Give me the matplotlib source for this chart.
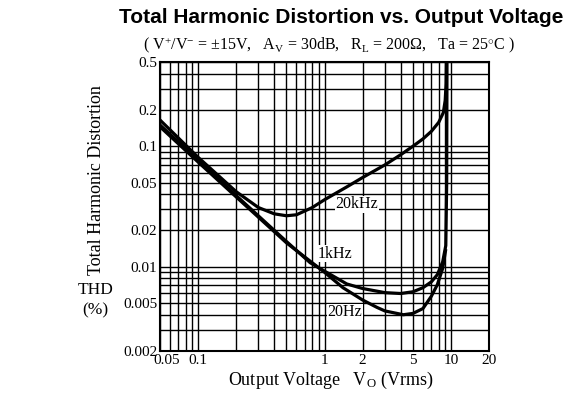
import matplotlib
matplotlib.use("Agg")
import matplotlib.pyplot as plt
from matplotlib.ticker import FixedLocator, FixedFormatter, NullFormatter, LogLocator
from matplotlib.transforms import ScaledTranslation

plt.rcParams['font.family'] = ['Liberation Serif', 'DejaVu Serif']
plt.rcParams['mathtext.fontset'] = 'custom'
plt.rcParams['mathtext.rm'] = 'Liberation Serif'
plt.rcParams['mathtext.it'] = 'Liberation Serif:italic'

# data (Vo in Vrms, THD in %)
vo_20k = [0.05, 0.1, 0.2, 0.3, 0.4, 0.5, 0.6, 0.8, 1, 1.5, 2, 3, 4, 5, 6, 7, 8, 8.7, 9.0, 9.15, 9.2]
thd_20k = [0.165, 0.081, 0.042, 0.031, 0.0275, 0.0265, 0.027, 0.031, 0.036, 0.046, 0.055, 0.07, 0.085, 0.1, 0.115, 0.133, 0.158, 0.19, 0.24, 0.33, 0.5]

vo_1k = [0.05, 0.1, 0.2, 0.5, 0.77, 1, 1.5, 2, 3, 4, 5, 6, 7, 7.8, 8.6, 9.1, 9.25, 9.3]
thd_1k = [0.15, 0.077, 0.039, 0.0162, 0.0108, 0.0092, 0.0072, 0.0066, 0.0061, 0.0060, 0.0062, 0.0067, 0.0075, 0.0086, 0.011, 0.015, 0.05, 0.5]

vo_20 = [0.05, 0.1, 0.2, 0.5, 1, 1.4, 2, 2.6, 3, 4.2, 5, 6, 7, 7.8, 8.6, 9.1]
thd_20 = [0.145, 0.074, 0.038, 0.0158, 0.009, 0.0067, 0.0053, 0.0046, 0.0043, 0.0040, 0.0041, 0.0045, 0.0057, 0.0071, 0.0097, 0.014]

x_ticks = [0.05, 0.1, 1, 2, 5, 10, 20]
x_labels = ['0.05', '0.1', '1', '2', '5', '10', '20']
y_ticks = [0.002, 0.005, 0.01, 0.02, 0.05, 0.1, 0.2, 0.5]
y_labels = ['0.002', '0.005', '0.01', '0.02', '0.05', '0.1', '0.2', '0.5']

fig = plt.figure(figsize=(5.75, 3.95), dpi=100, facecolor='white')
ax = fig.add_axes([0.2783, 0.1114, 0.5722, 0.7316])

ax.set_xscale('log')
ax.set_yscale('log')
ax.set_xlim(0.05, 20)
ax.set_ylim(0.002, 0.5)

ax.xaxis.set_minor_locator(LogLocator(base=10, subs=range(2, 10)))
ax.yaxis.set_minor_locator(LogLocator(base=10, subs=range(2, 10)))
ax.grid(True, which='both', color='black', linewidth=1.0)
ax.xaxis.set_major_locator(FixedLocator(x_ticks))
ax.xaxis.set_major_formatter(FixedFormatter(x_labels))
ax.yaxis.set_major_locator(FixedLocator(y_ticks))
ax.yaxis.set_major_formatter(FixedFormatter(y_labels))
ax.xaxis.set_minor_formatter(NullFormatter())
ax.yaxis.set_minor_formatter(NullFormatter())
ax.tick_params(which='both', length=0, labelsize=11, pad=2, colors='black')
for s in ax.spines.values():
    s.set_linewidth(1.5)

# nudge the corner label so it clears 0.002
for lab in ax.get_xticklabels():
    if lab.get_text() == '0.05':
        lab.set_transform(lab.get_transform() + ScaledTranslation(5 / 72, 0, fig.dpi_scale_trans))

ax.plot(vo_20k, thd_20k, color='black', linewidth=2.3, solid_capstyle='butt')
ax.plot(vo_1k, thd_1k, color='black', linewidth=2.3, solid_capstyle='butt')
ax.plot(vo_20, thd_20, color='black', linewidth=2.3, solid_capstyle='butt')

box = dict(facecolor='white', edgecolor='none', pad=0.5)
ax.text(1.8, 0.033, '20kHz', fontsize=11.5, ha='center', va='center', bbox=box)
ax.text(1.2, 0.0128, '1kHz', fontsize=11.5, ha='center', va='center', bbox=box)
ax.text(1.45, 0.0042, '20Hz', fontsize=11.5, ha='center', va='center', bbox=box)

fig.text(0.593, 0.955, 'Total Harmonic Distortion vs. Output Voltage',
         family='Liberation Sans', fontweight='bold', fontsize=15, ha='center', va='center')
fig.text(0.573, 0.886,
         r'( V$^{+}$/V$^{-}$ = $\pm$15V,   A$_{\rm V}$ = 30dB,   R$_{\rm L}$ = 200$\Omega$,   Ta = 25$^{\circ}$C )',
         fontsize=11.5, ha='center', va='center')

fig.text(0.168, 0.544, 'Total Harmonic Distortion', rotation=90, fontsize=13,
         ha='center', va='center')
fig.text(0.167, 0.266, 'THD', fontsize=12.5, ha='center', va='center')
fig.text(0.165, 0.213, '(%)', fontsize=12.5, ha='center', va='center')
fig.text(0.575, 0.038, r'Output Voltage   V$_{\rm O}$ (Vrms)', fontsize=13,
         ha='center', va='center')

fig.savefig('out.png', dpi=100, facecolor='white')
